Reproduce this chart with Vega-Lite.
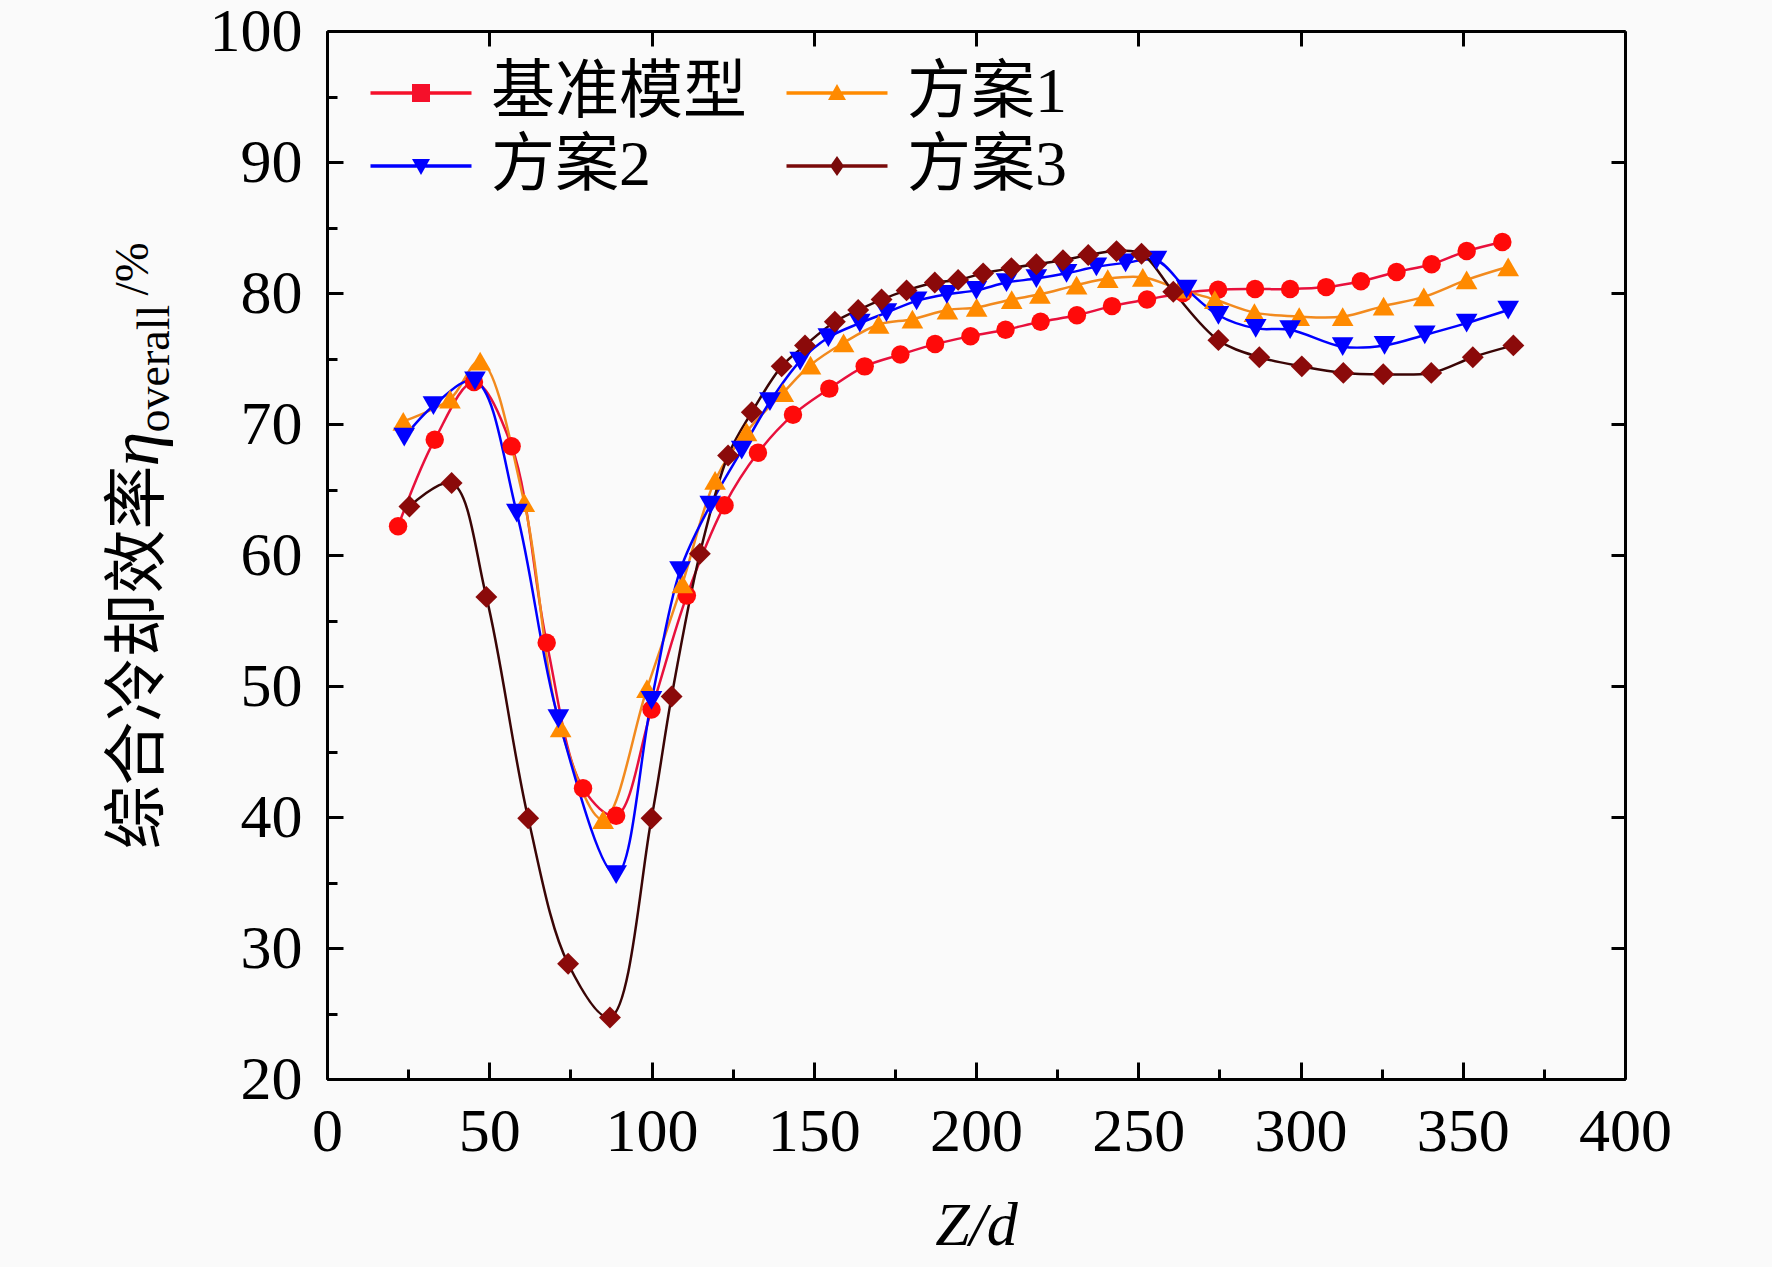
{
  "$schema": "https://vega.github.io/schema/vega-lite/v6.json",
  "width": 1298,
  "height": 1048,
  "autosize": {"type": "none"},
  "padding": {"left": 327, "top": 31, "right": 147, "bottom": 188},
  "background": "#FAFAFA",
  "config": {
    "view": {"stroke": null},
    "axis": {
      "domainColor": "black", "domainWidth": 3, "tickColor": "black", "tickWidth": 3,
      "grid": false, "labelFont": "Liberation Serif", "labelFontSize": 62, "labelColor": "black",
      "titleColor": "black", "titleFontWeight": "normal", "labelFlush": false, "labelOverlap": false
    }
  },
  "data": {"values": [
    {"s":"基准模型","x":21.9,"y":62.2},{"s":"基准模型","x":33.2,"y":68.8},{"s":"基准模型","x":45.3,"y":73.2},{"s":"基准模型","x":56.9,"y":68.3},
    {"s":"基准模型","x":67.7,"y":53.3},{"s":"基准模型","x":78.9,"y":42.2},{"s":"基准模型","x":89.1,"y":40.1},{"s":"基准模型","x":100.0,"y":48.2},
    {"s":"基准模型","x":110.9,"y":56.9},{"s":"基准模型","x":122.5,"y":63.8},{"s":"基准模型","x":132.8,"y":67.8},{"s":"基准模型","x":143.6,"y":70.7},
    {"s":"基准模型","x":154.8,"y":72.7},{"s":"基准模型","x":165.7,"y":74.4},{"s":"基准模型","x":176.7,"y":75.3},{"s":"基准模型","x":187.4,"y":76.1},
    {"s":"基准模型","x":198.3,"y":76.7},{"s":"基准模型","x":209.1,"y":77.2},{"s":"基准模型","x":219.9,"y":77.8},{"s":"基准模型","x":231.1,"y":78.3},
    {"s":"基准模型","x":241.9,"y":79.0},{"s":"基准模型","x":252.7,"y":79.5},{"s":"基准模型","x":263.8,"y":80.0},{"s":"基准模型","x":274.6,"y":80.25},
    {"s":"基准模型","x":286.0,"y":80.3},{"s":"基准模型","x":296.8,"y":80.3},{"s":"基准模型","x":307.9,"y":80.45},{"s":"基准模型","x":318.6,"y":80.9},
    {"s":"基准模型","x":329.6,"y":81.6},{"s":"基准模型","x":340.4,"y":82.2},{"s":"基准模型","x":351.2,"y":83.2},{"s":"基准模型","x":362.2,"y":83.9},

    {"s":"方案1","x":23.5,"y":70.2},{"s":"方案1","x":37.9,"y":71.9},{"s":"方案1","x":47.2,"y":74.8},{"s":"方案1","x":60.8,"y":64.0},
    {"s":"方案1","x":72.0,"y":46.8},{"s":"方案1","x":85.1,"y":39.8},{"s":"方案1","x":98.6,"y":49.8},{"s":"方案1","x":109.5,"y":57.8},
    {"s":"方案1","x":119.6,"y":65.7},{"s":"方案1","x":129.3,"y":69.4},{"s":"方案1","x":140.6,"y":72.4},{"s":"方案1","x":149.0,"y":74.5},
    {"s":"方案1","x":159.2,"y":76.2},{"s":"方案1","x":170.0,"y":77.6},{"s":"方案1","x":180.4,"y":78.0},{"s":"方案1","x":191.2,"y":78.7},
    {"s":"方案1","x":200.2,"y":78.9},{"s":"方案1","x":211.0,"y":79.5},{"s":"方案1","x":219.7,"y":79.9},{"s":"方案1","x":231.0,"y":80.6},
    {"s":"方案1","x":240.6,"y":81.1},{"s":"方案1","x":251.4,"y":81.2},{"s":"方案1","x":262.6,"y":80.3},{"s":"方案1","x":273.6,"y":79.5},
    {"s":"方案1","x":285.8,"y":78.5},{"s":"方案1","x":299.6,"y":78.2},{"s":"方案1","x":313.0,"y":78.2},{"s":"方案1","x":325.6,"y":79.0},
    {"s":"方案1","x":338.0,"y":79.7},{"s":"方案1","x":351.2,"y":81.0},{"s":"方案1","x":364.0,"y":82.0},

    {"s":"方案2","x":23.8,"y":69.0},{"s":"方案2","x":32.8,"y":71.4},{"s":"方案2","x":45.6,"y":73.3},{"s":"方案2","x":58.5,"y":63.2},
    {"s":"方案2","x":71.3,"y":47.5},{"s":"方案2","x":89.1,"y":35.6},{"s":"方案2","x":100.0,"y":48.9},{"s":"方案2","x":108.8,"y":58.8},
    {"s":"方案2","x":118.1,"y":63.8},{"s":"方案2","x":127.8,"y":68.0},{"s":"方案2","x":136.5,"y":71.7},{"s":"方案2","x":145.8,"y":74.8},
    {"s":"方案2","x":154.5,"y":76.6},{"s":"方案2","x":164.2,"y":77.7},{"s":"方案2","x":172.4,"y":78.5},{"s":"方案2","x":181.7,"y":79.4},
    {"s":"方案2","x":191.0,"y":79.9},{"s":"方案2","x":200.1,"y":80.2},{"s":"方案2","x":209.4,"y":80.8},{"s":"方案2","x":218.6,"y":81.1},
    {"s":"方案2","x":227.9,"y":81.5},{"s":"方案2","x":237.1,"y":82.0},{"s":"方案2","x":246.1,"y":82.3},{"s":"方案2","x":255.6,"y":82.5},
    {"s":"方案2","x":264.9,"y":80.3},{"s":"方案2","x":274.7,"y":78.3},{"s":"方案2","x":286.2,"y":77.3},{"s":"方案2","x":296.8,"y":77.2},
    {"s":"方案2","x":313.0,"y":75.9},{"s":"方案2","x":325.9,"y":76.0},{"s":"方案2","x":338.3,"y":76.8},{"s":"方案2","x":351.2,"y":77.7},
    {"s":"方案2","x":364.0,"y":78.7},

    {"s":"方案3","x":25.4,"y":63.7},{"s":"方案3","x":38.4,"y":65.5},{"s":"方案3","x":49.1,"y":56.8},{"s":"方案3","x":62.0,"y":39.9},
    {"s":"方案3","x":74.3,"y":28.8},{"s":"方案3","x":87.2,"y":24.7},{"s":"方案3","x":100.0,"y":39.9},{"s":"方案3","x":106.2,"y":49.2},
    {"s":"方案3","x":114.9,"y":60.1},{"s":"方案3","x":123.6,"y":67.6},{"s":"方案3","x":130.9,"y":70.9},{"s":"方案3","x":140.1,"y":74.4},
    {"s":"方案3","x":147.3,"y":76.0},{"s":"方案3","x":156.5,"y":77.8},{"s":"方案3","x":163.7,"y":78.7},{"s":"方案3","x":170.9,"y":79.5},
    {"s":"方案3","x":178.6,"y":80.2},{"s":"方案3","x":187.3,"y":80.8},{"s":"方案3","x":194.5,"y":81.0},{"s":"方案3","x":202.2,"y":81.5},
    {"s":"方案3","x":210.9,"y":81.9},{"s":"方案3","x":218.6,"y":82.2},{"s":"方案3","x":226.8,"y":82.5},{"s":"方案3","x":234.6,"y":82.9},
    {"s":"方案3","x":243.3,"y":83.2},{"s":"方案3","x":251.0,"y":83.0},{"s":"方案3","x":260.8,"y":80.1},{"s":"方案3","x":274.7,"y":76.4},
    {"s":"方案3","x":287.3,"y":75.1},{"s":"方案3","x":300.4,"y":74.4},{"s":"方案3","x":313.2,"y":73.9},{"s":"方案3","x":325.5,"y":73.8},
    {"s":"方案3","x":340.3,"y":73.9},{"s":"方案3","x":353.1,"y":75.1},{"s":"方案3","x":365.6,"y":76.0}
  ]},
  "resolve": {"scale": {"x": "independent", "y": "independent"}},
  "layer": [
    {
      "mark": {"type": "line", "interpolate": "catmull-rom", "strokeWidth": 2.5},
      "encoding": {
        "x": {"field": "x", "type": "quantitative", "scale": {"domain": [0, 400], "nice": false, "zero": false},
          "axis": {"orient": "bottom", "values": [0,50,100,150,200,250,300,350,400], "tickSize": -17, "labelPadding": 88,
            "labelBaseline": "alphabetic", "labelAlign": "center",
            "title": "Z/d", "titleFont": "Liberation Serif", "titleFontStyle": "italic", "titleFontSize": 62,
            "titleX": 649, "titleY": 165, "titleAlign": "center", "titleBaseline": "alphabetic", "titleAngle": 0}},
        "y": {"field": "y", "type": "quantitative", "scale": {"domain": [20, 100], "nice": false, "zero": false},
          "axis": {"orient": "left", "values": [20,30,40,50,60,70,80,90,100], "tickSize": -16, "labelPadding": 41,
            "labelAlign": "right", "labelBaseline": "middle",
            "title": "综合冷却效率", "titleFont": "Noto Sans CJK SC", "titleFontSize": 64,
            "titleAngle": 270, "titleAlign": "left", "titleBaseline": "alphabetic", "titleX": -170, "titleY": 818}},
        "stroke": {"field": "s", "type": "nominal",
          "scale": {"range": ["#E8103C", "#F28A1E", "#0000FF", "#3A0505"]},
          "legend": null}
      }
    },
    {
      "transform": [{"filter": "datum.s === '基准模型'"}],
      "mark": {"type": "point", "filled": true, "shape": "circle", "size": 340, "fill": "#FF0A0A", "opacity": 1, "strokeWidth": 0},
      "encoding": {
        "x": {"field": "x", "type": "quantitative", "scale": {"domain": [0, 400], "nice": false, "zero": false},
          "axis": {"orient": "bottom", "values": [25,75,125,175,225,275,325,375], "tickSize": -10, "labels": false, "title": null}},
        "y": {"field": "y", "type": "quantitative", "scale": {"domain": [20, 100], "nice": false, "zero": false},
          "axis": {"orient": "left", "values": [25,35,45,55,65,75,85,95], "tickSize": -10, "labels": false,
            "title": "overall", "titleFont": "Liberation Serif", "titleFontSize": 46,
            "titleAngle": 270, "titleAlign": "left", "titleBaseline": "alphabetic", "titleX": -159, "titleY": 401}}
      }
    },
    {
      "transform": [{"filter": "datum.s === '方案1'"}],
      "mark": {"type": "point", "filled": true, "shape": "triangle-up", "size": 470, "fill": "#FF8A00", "opacity": 1, "strokeWidth": 0},
      "encoding": {
        "x": {"field": "x", "type": "quantitative", "scale": {"domain": [0, 400], "nice": false, "zero": false}, "axis": null},
        "y": {"field": "y", "type": "quantitative", "scale": {"domain": [20, 100], "nice": false, "zero": false}, "axis": null}
      }
    },
    {
      "transform": [{"filter": "datum.s === '方案2'"}],
      "mark": {"type": "point", "filled": true, "shape": "triangle-down", "size": 470, "fill": "#0000FF", "opacity": 1, "strokeWidth": 0},
      "encoding": {
        "x": {"field": "x", "type": "quantitative", "scale": {"domain": [0, 400], "nice": false, "zero": false}, "axis": null},
        "y": {"field": "y", "type": "quantitative", "scale": {"domain": [20, 100], "nice": false, "zero": false}, "axis": null}
      }
    },
    {
      "transform": [{"filter": "datum.s === '方案3'"}],
      "mark": {"type": "point", "filled": true, "shape": "diamond", "size": 480, "fill": "#8B0A0A", "opacity": 1, "strokeWidth": 0},
      "encoding": {
        "x": {"field": "x", "type": "quantitative", "scale": {"domain": [0, 400], "nice": false, "zero": false}, "axis": null},
        "y": {"field": "y", "type": "quantitative", "scale": {"domain": [20, 100], "nice": false, "zero": false}, "axis": null}
      }
    },
    {
      "mark": {"type": "point", "filled": true, "size": 1600, "opacity": 0},
      "encoding": {
        "x": {"field": "x", "type": "quantitative", "scale": {"domain": [0, 400], "nice": false, "zero": false},
          "axis": {"orient": "top", "values": [0,50,100,150,200,250,300,350,400], "tickSize": -15, "labels": false,
            "title": "η", "titleFont": "Liberation Serif", "titleFontStyle": "italic", "titleFontSize": 70,
            "titleAngle": 270, "titleAlign": "left", "titleBaseline": "alphabetic", "titleX": -170, "titleY": 435}},
        "y": {"field": "y", "type": "quantitative", "scale": {"domain": [20, 100], "nice": false, "zero": false},
          "axis": {"orient": "right", "values": [20,30,40,50,60,70,80,90,100], "tickSize": -14, "labels": false,
            "title": "/%", "titleFont": "Liberation Serif", "titleFontSize": 48,
            "titleAngle": 270, "titleAlign": "left", "titleBaseline": "alphabetic", "titleX": -1478, "titleY": 264}},
        "color": {"field": "s", "type": "nominal",
          "scale": {"domain": ["基准模型", "方案1", "方案2", "方案3"], "range": ["#F5102A", "#FF8A00", "#0000FF", "#7A0A0A"]},
          "legend": {"orient": "none", "legendX": 62, "legendY": 30, "columns": 2, "direction": "horizontal", "title": null, "symbolSize": 1600,
            "labelFontSize": 64, "labelFont": "Liberation Serif, Noto Sans CJK SC", "labelColor": "black", "labelOffset": 38,
            "columnPadding": 39, "rowPadding": 9, "symbolOpacity": 1, "symbolStrokeWidth": 0, "padding": 0,
            "labelBaseline": "middle", "labelLimit": 500}},
        "shape": {"field": "s", "type": "nominal",
          "scale": {"domain": ["基准模型", "方案1", "方案2", "方案3"], "range": [
            "M-2.525,-0.09H2.525V0.09H-2.525Z M-0.45,-0.45H0.45V0.45H-0.45Z",
            "M-2.525,-0.09H2.525V0.09H-2.525Z M-0.45,0.35L0,-0.45L0.45,0.35Z",
            "M-2.525,-0.09H2.525V0.09H-2.525Z M-0.45,-0.35L0.45,-0.35L0,0.45Z",
            "M-2.525,-0.09H2.525V0.09H-2.525Z M0,-0.5L0.35,0L0,0.5L-0.35,0Z"]},
          "legend": {"orient": "none", "legendX": 62, "legendY": 30, "columns": 2, "direction": "horizontal", "title": null, "symbolSize": 1600,
            "labelFontSize": 64, "labelFont": "Liberation Serif, Noto Sans CJK SC", "labelColor": "black", "labelOffset": 38,
            "columnPadding": 39, "rowPadding": 9, "symbolOpacity": 1, "symbolStrokeWidth": 0, "padding": 0,
            "labelBaseline": "middle", "labelLimit": 500}}
      }
    }
  ]
}
